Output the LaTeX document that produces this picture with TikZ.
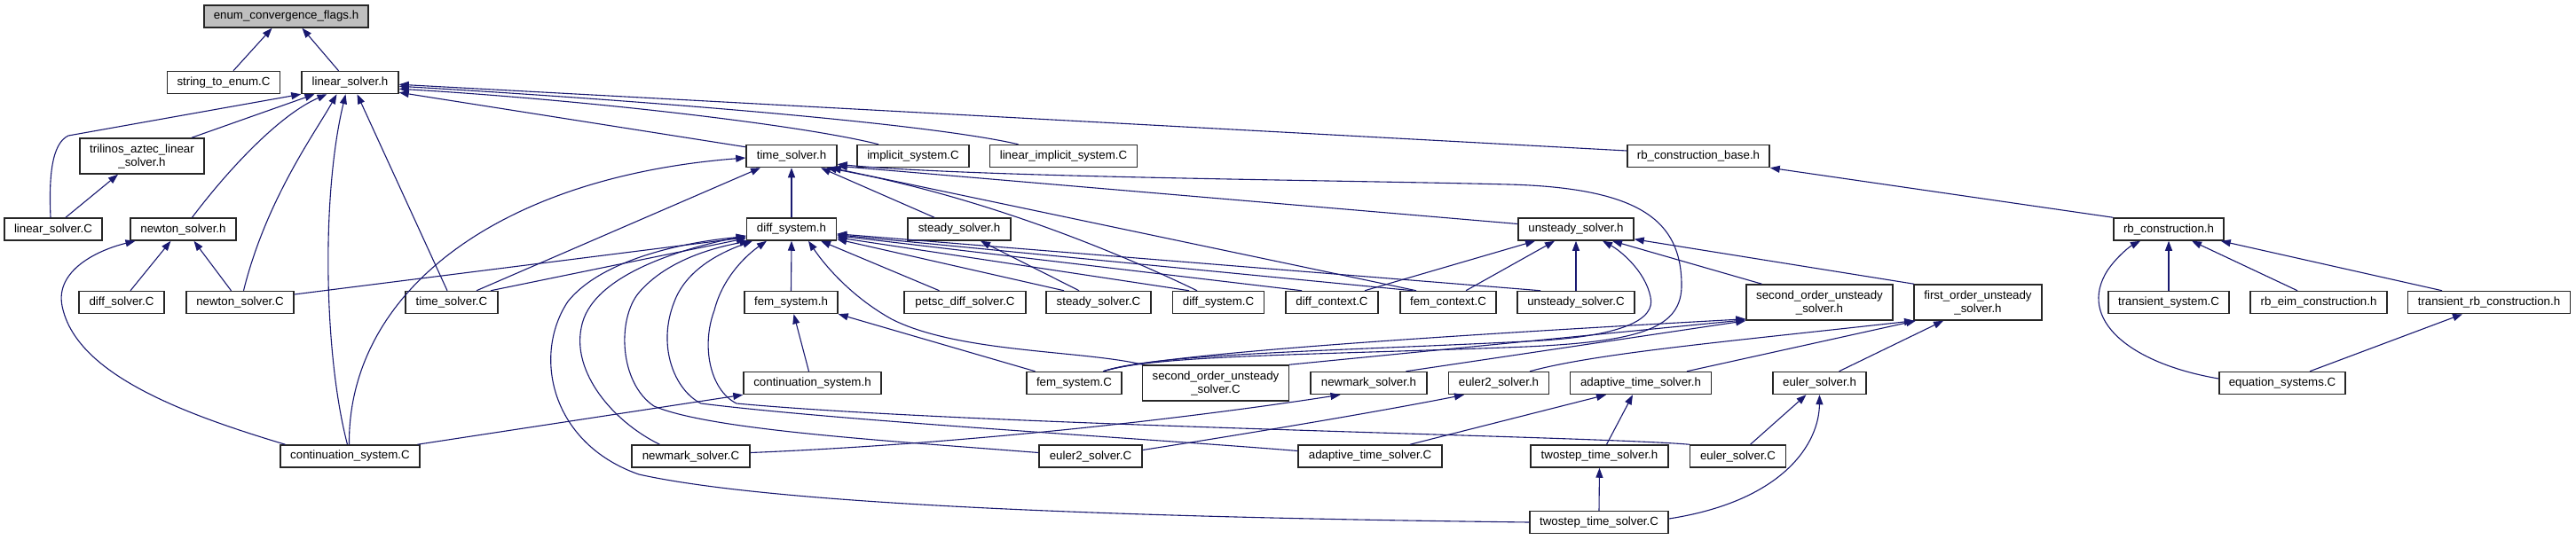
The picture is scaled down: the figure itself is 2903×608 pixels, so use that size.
\documentclass[tikz,border=0pt]{standalone}
\usepackage{fontspec}
\setmainfont{Liberation Sans}
\usetikzlibrary{arrows.meta}
\definecolor{edgec}{RGB}{25,25,112}
\definecolor{rootfill}{RGB}{191,191,191}
\begin{document}
\begin{tikzpicture}[x=1pt,y=-1pt,
 box/.style={draw=black!85, line width=1.5pt, fill=white, inner sep=0pt, minimum height=25pt, font=\fontsize{13.3}{15}\selectfont},
 two/.style={box, minimum height=40pt, align=center},
 dep/.style={draw=edgec, line width=1.1pt, -{Triangle[length=11pt,width=8pt]}}]
\useasboundingbox (0,0) rectangle (2903,608);
\fill[white] (0,0) rectangle (2903,608);
% nodes
\node[box,fill=rootfill,minimum width=185pt] (enum) at (322.5,18.5) {enum\_convergence\_flags.h};
\node[box,minimum width=127pt] (ste) at (252,93) {string\_to\_enum.C};
\node[box,minimum width=109pt] (lsh) at (394.5,93) {linear\_solver.h};
\node[two,minimum width=140pt] (tri) at (160,176) {trilinos\_aztec\_linear\\\_solver.h};
\node[box,minimum width=110pt] (lsC) at (60,258.5) {linear\_solver.C};
\node[box,minimum width=119pt] (nsh) at (206.5,258.5) {newton\_solver.h};
\node[box,minimum width=96pt] (dsC) at (137,341) {diff\_solver.C};
\node[box,minimum width=121pt] (nsC) at (270.5,341) {newton\_solver.C};
\node[box,minimum width=104pt] (tsC) at (509,341) {time\_solver.C};
\node[box,minimum width=157pt] (csC) at (394.5,514.5) {continuation\_system.C};
\node[box,minimum width=102pt] (tsh) at (892,176) {time\_solver.h};
\node[box,minimum width=126pt] (impl) at (1029,176) {implicit\_system.C};
\node[box,minimum width=166pt] (limpl) at (1198.5,176) {linear\_implicit\_system.C};
\node[box,minimum width=101pt] (dsh) at (892,258.5) {diff\_system.h};
\node[box,minimum width=116pt] (ssh) at (1081,258.5) {steady\_solver.h};
\node[box,minimum width=105pt] (fsh) at (891.5,341) {fem\_system.h};
\node[box,minimum width=137pt] (pds) at (1087.5,341) {petsc\_diff\_solver.C};
\node[box,minimum width=118pt] (ssC) at (1238,341) {steady\_solver.C};
\node[box,minimum width=103pt] (dsysC) at (1373,341) {diff\_system.C};
\node[box,minimum width=155pt] (csh) at (915.5,432) {continuation\_system.h};
\node[box,minimum width=107pt] (fsC) at (1210.5,432) {fem\_system.C};
\node[two,minimum width=165pt] (soC) at (1370,432) {second\_order\_unsteady\\\_solver.C};
\node[box,minimum width=133pt] (nmC) at (778.5,514.5) {newmark\_solver.C};
\node[box,minimum width=116pt] (e2C) at (1229,514.5) {euler2\_solver.C};
\node[box,minimum width=160pt] (rbb) at (1914,176) {rb\_construction\_base.h};
\node[box,minimum width=130pt] (ush) at (1776,258.5) {unsteady\_solver.h};
\node[box,minimum width=104pt] (dcC) at (1501,341) {diff\_context.C};
\node[box,minimum width=108pt] (fcC) at (1632,341) {fem\_context.C};
\node[box,minimum width=132pt] (usC) at (1776,341) {unsteady\_solver.C};
\node[two,minimum width=165pt] (soh) at (2050.5,341) {second\_order\_unsteady\\\_solver.h};
\node[two,minimum width=144pt] (foh) at (2229,341) {first\_order\_unsteady\\\_solver.h};
\node[box,minimum width=131pt] (nmh) at (1542.5,432) {newmark\_solver.h};
\node[box,minimum width=113pt] (e2h) at (1689,432) {euler2\_solver.h};
\node[box,minimum width=159pt] (ath) at (1849,432) {adaptive\_time\_solver.h};
\node[box,minimum width=105pt] (eh) at (2050.5,432) {euler\_solver.h};
\node[box,minimum width=162pt] (atC) at (1544,514.5) {adaptive\_time\_solver.C};
\node[box,minimum width=155pt] (tth) at (1802.5,514.5) {twostep\_time\_solver.h};
\node[box,minimum width=108pt] (eC) at (1958.5,514.5) {euler\_solver.C};
\node[box,minimum width=156pt] (ttC) at (1802,589) {twostep\_time\_solver.C};
\node[box,minimum width=124pt] (rbc) at (2444,258.5) {rb\_construction.h};
\node[box,minimum width=136pt] (tsysC) at (2444,341) {transient\_system.C};
\node[box,minimum width=154pt] (rbeim) at (2613,341) {rb\_eim\_construction.h};
\node[box,minimum width=183pt] (trb) at (2805,341) {transient\_rb\_construction.h};
\node[box,minimum width=142pt] (eqC) at (2572,432) {equation\_systems.C};
% edges
\draw[dep] ([xshift=11pt]ste.north) -- ([xshift=-16pt]enum.south);
\draw[dep] ([xshift=-13pt]lsh.north) -- ([xshift=18pt]enum.south);
\draw[dep] ([xshift=-3pt]lsC.north) .. controls (55,200) and (58,162) .. (77,153) -- (lsh.south west);
\draw[dep] ([xshift=56pt]tri.north) -- ([xshift=-40pt]lsh.south);
\draw[dep] ([xshift=10pt]nsh.north) .. controls (262,185) and (318,128) .. ([xshift=-26pt]lsh.south);
\draw[dep] ([xshift=4pt]nsC.north) .. controls (300,225) and (355,150) .. ([xshift=-15pt]lsh.south);
\draw[dep] ([xshift=-3pt]csC.north) .. controls (365,400) and (362,220) .. ([xshift=-5pt]lsh.south);
\draw[dep] ([xshift=-5pt]tsC.north) -- ([xshift=8pt]lsh.south);
\draw[dep] ([yshift=-3pt]tsh.north west) -- ([yshift=2pt]lsh.south east);
\draw[dep] ([xshift=-39pt]impl.north) .. controls (900,140) and (650,112) .. ([yshift=6pt]lsh.south east);
\draw[dep] ([xshift=-51pt]limpl.north) .. controls (1050,140) and (750,115) .. ([yshift=9pt]lsh.south east);
\draw[dep] ([yshift=6pt]rbb.west) -- ([yshift=11pt]lsh.south east);
\draw[dep] ([xshift=14pt]lsC.north) -- ([xshift=-27pt]tri.south);
\draw[dep] ([xshift=10pt]dsC.north) -- ([xshift=-14pt]nsh.south);
\draw[dep] ([xshift=-10pt]nsC.north) -- ([xshift=12pt]nsh.south);
\draw[dep] ([xshift=-73pt]csC.north) .. controls (200,465) and (85,420) .. (70,345) .. controls (62,305) and (110,282) .. ([xshift=-54pt]nsh.south);
\draw[dep] (dsh.north) -- (tsh.south);
\draw[dep] ([xshift=-28pt]ssh.north) -- ([xshift=33pt]tsh.south);
\draw[dep] ([yshift=6pt]ush.west) -- ([yshift=2pt]tsh.south east);
\draw[dep] ([xshift=28pt]tsC.north) -- ([xshift=-35pt]tsh.south);
\draw[dep] ([xshift=-1pt]csC.north) .. controls (392,330) and (560,200) .. ([yshift=-2pt]tsh.west);
\draw[dep] ([xshift=-24pt]dsysC.north) .. controls (1250,280) and (1100,220) .. ([xshift=-12pt]tsh.south east);
\draw[dep] ([xshift=-36pt]fcC.north) -- ([xshift=-7pt]tsh.south east);
\draw[dep] ([xshift=33pt]fsC.north) .. controls (1300,400) and (1500,400) .. (1720,391) .. controls (1850,385) and (1896,370) .. (1895,320) .. controls (1894,250) and (1850,212) .. (1700,208) .. controls (1500,203) and (1100,200) .. ([yshift=4pt]tsh.south east);
\draw[dep] ([xshift=33pt]fsC.north) .. controls (1300,399) and (1500,396) .. (1720,385) .. controls (1830,380) and (1866,360) .. (1860,335) .. controls (1854,305) and (1825,282) .. ([xshift=30pt]ush.south);
\draw[dep] ([xshift=33pt]fsC.north) .. controls (1300,400) and (1600,380) .. ([yshift=2pt]soh.south west);
\draw[dep] ([xshift=-65pt]soh.north) -- ([xshift=41pt]ush.south);
\draw[dep] ([xshift=-72pt]foh.north) -- ([yshift=2pt]ush.south east);
\draw[dep] ([xshift=37pt]dcC.north) -- ([xshift=-46pt]ush.south);
\draw[dep] ([xshift=20pt]fcC.north) -- ([xshift=-24pt]ush.south);
\draw[dep] (usC.north) -- (ush.south);
\draw[dep] (fsh.north) -- (dsh.south);
\draw[dep] ([xshift=-4pt]csh.north) -- ([xshift=3pt]fsh.south);
\draw[dep] ([xshift=-44pt]fsC.north) -- (fsh.south east);
\draw[dep] ([xshift=76pt]csC.north) -- (csh.south west);
\draw[dep] ([yshift=9pt]nsC.east) -- ([yshift=4pt]dsh.south west);
\draw[dep] ([xshift=44pt]tsC.north) -- ([yshift=3pt]dsh.south west);
\draw[dep] (ttC.west) .. controls (1400,585) and (900,575) .. (720,535) .. controls (620,500) and (600,400) .. (640,340) .. controls (680,290) and (780,272) .. ([yshift=5pt]dsh.south west);
\draw[dep] ([xshift=-35pt]nmC.north) .. controls (690,475) and (645,420) .. (655,370) .. controls (665,310) and (770,280) .. ([yshift=6pt]dsh.south west);
\draw[dep] ([yshift=4pt]e2C.west) .. controls (1000,497) and (800,485) .. (737,458) .. controls (698,432) and (695,360) .. (720,330) .. controls (750,295) and (800,280) .. ([xshift=4pt]dsh.south west);
\draw[dep] ([yshift=6pt]atC.west) .. controls (1300,495) and (950,475) .. (790,455) .. controls (760,440) and (740,390) .. (760,340) .. controls (775,300) and (820,282) .. ([xshift=-44pt]dsh.south);
\draw[dep] (eC.north west) .. controls (1800,492) and (1100,480) .. (830,455) .. controls (800,440) and (790,390) .. (805,350) .. controls (815,310) and (845,285) .. ([xshift=-28pt]dsh.south);
\draw[dep] ([xshift=-82pt]soC.north) .. controls (1220,395) and (1080,398) .. (1005,360) .. controls (960,335) and (930,300) .. ([xshift=19pt]dsh.south);
\draw[dep] ([xshift=-29pt]pds.north) -- ([xshift=33pt]dsh.south);
\draw[dep] ([xshift=-39pt]ssC.north) -- ([yshift=2pt]dsh.south east);
\draw[dep] ([xshift=-33pt]dsysC.north) -- ([yshift=4pt]dsh.south east);
\draw[dep] ([xshift=-34pt]dcC.north) -- ([yshift=6pt]dsh.south east);
\draw[dep] ([xshift=-40pt]fcC.north) -- ([yshift=7pt]dsh.south east);
\draw[dep] ([xshift=-40pt]usC.north) -- ([yshift=8pt]dsh.south east);
\draw[dep] ([xshift=-22pt]ssC.north) -- ([xshift=24pt]ssh.south);
\draw[dep] ([xshift=42pt]nmh.north) -- (soh.south west);
\draw[dep] ([xshift=83pt]soC.north) -- ([yshift=1pt]soh.south west);
\draw[dep] ([xshift=35pt]e2h.north) .. controls (1800,398) and (1950,385) .. ([xshift=-72pt]foh.south);
\draw[dep] ([xshift=52pt]ath.north) -- ([xshift=-70pt]foh.south);
\draw[dep] ([xshift=22pt]eh.north) -- ([xshift=-39pt]foh.south);
\draw[dep] ([yshift=4pt]nmC.east) .. controls (1100,500) and (1350,470) .. ([xshift=-32pt]nmh.south);
\draw[dep] ([yshift=7pt]e2C.east) .. controls (1400,490) and (1550,465) .. ([xshift=-39pt]e2h.south);
\draw[dep] ([xshift=45pt]atC.north) -- ([xshift=-39pt]ath.south);
\draw[dep] ([xshift=8pt]tth.north) -- ([xshift=-9pt]ath.south);
\draw[dep] ([xshift=14pt]eC.north) -- ([xshift=-15pt]eh.south);
\draw[dep] ([yshift=4pt]ttC.east) .. controls (2010,565) and (2050,500) .. (eh.south);
\draw[dep] (ttC.north) -- (tth.south);
\draw[dep] (rbc.north west) -- (rbb.south east);
\draw[dep] (tsysC.north) -- (rbc.south);
\draw[dep] ([xshift=-24pt]rbeim.north) -- ([xshift=26pt]rbc.south);
\draw[dep] ([xshift=-53pt]trb.north) -- ([xshift=-4pt]rbc.south east);
\draw[dep] ([yshift=5pt]eqC.west) .. controls (2400,410) and (2340,360) .. (2375,305) .. controls (2385,290) and (2400,278) .. ([xshift=-32pt]rbc.south);
\draw[dep] ([xshift=31pt]eqC.north) -- ([xshift=-30pt]trb.south);
\end{tikzpicture}
\end{document}
